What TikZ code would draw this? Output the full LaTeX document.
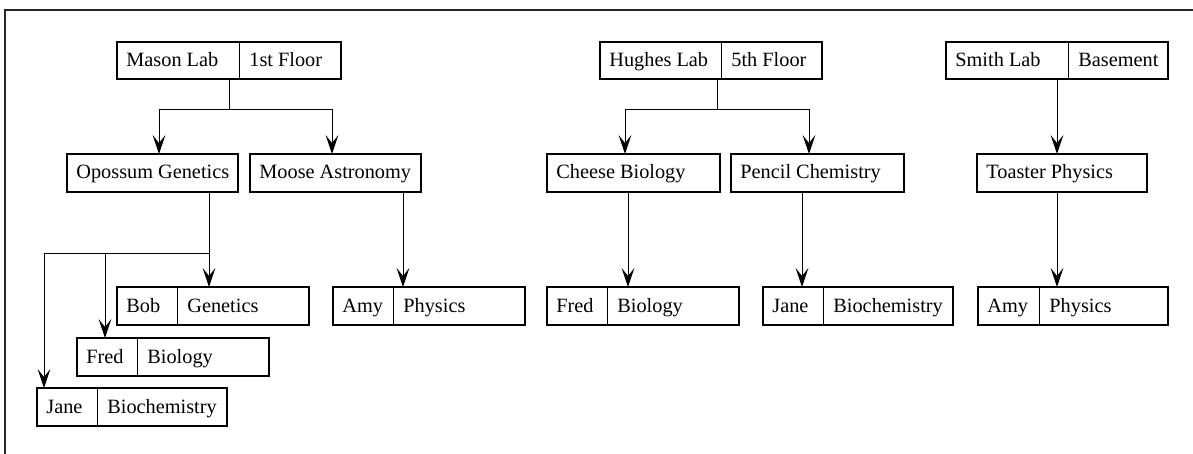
\documentclass[tikz,border=0pt]{standalone}
\usepackage{fontspec}
\setmainfont{Liberation Serif}
\usetikzlibrary{arrows.meta}

% one drawing unit = half a point, y grows downwards
\tikzset{
  boxst/.style={draw, line width=0.65pt, rectangle, inner sep=0pt, outer sep=0pt, anchor=north west},
  divline/.style={line width=0.5pt},
  txt/.style={inner sep=0pt, anchor=base west, font=\fontsize{10.15pt}{12pt}\selectfont},
  link/.style={line width=0.5pt},
  arr/.style={link, -{Stealth[length=9.5pt, width=6.4pt, inset=4pt]}},
}

% two-cell box: name, x1, y1, x2, y2, divider x, left text, right text
\newcommand\twocell[8]{%
  \node[boxst, minimum width={(#4-#2)*0.5pt}, minimum height={(#5-#3)*0.5pt}] (#1) at (#2,#3) {};
  \draw[divline] (#1.north -| #6,0) -- (#1.south -| #6,0);
  \node[txt] (#1-l) at (#2+9,#3+25) {#7};
  \node[txt] (#1-r) at (#6+10,#3+25) {#8};
}
% one-cell box: name, x1, y1, x2, y2, text
\newcommand\onecell[6]{%
  \node[boxst, minimum width={(#4-#2)*0.5pt}, minimum height={(#5-#3)*0.5pt}] (#1) at (#2,#3) {};
  \node[txt] (#1-t) at (#2+9,#3+25) {#6};
}

\begin{document}
\begin{tikzpicture}[x=0.5pt, y=-0.5pt]
\useasboundingbox (0,0) rectangle (1193,454);

% frame
\coordinate (fr-tr) at (1193,10);
\coordinate (fr-tl) at (5,10);
\coordinate (fr-bl) at (5,454);
\draw[line width=0.6pt, black!85] (fr-tr) -- (fr-tl) -- (fr-bl);

% labs
\twocell{mason}{117}{42}{341}{79}{239}{Mason Lab}{1st Floor}
\twocell{hughes}{600}{42}{822}{79}{721}{Hughes Lab}{5th Floor}
\twocell{smith}{946}{42}{1168}{79}{1068}{Smith Lab}{Basement}

% groups
\onecell{opossum}{67}{154}{238}{192}{Opossum Genetics}
\onecell{moose}{250}{154}{421}{192}{Moose Astronomy}
\onecell{cheese}{547}{154}{720}{192}{Cheese Biology}
\onecell{pencil}{731}{154}{904}{192}{Pencil Chemistry}
\onecell{toaster}{977}{154}{1147}{192}{Toaster Physics}

% people
\twocell{bob}{117}{287}{309}{325}{177}{Bob}{Genetics}
\twocell{fredA}{77}{338}{269}{376}{137}{Fred}{Biology}
\twocell{janeA}{37}{388}{227}{426}{97}{Jane}{Biochemistry}
\twocell{amyA}{333}{287}{525}{325}{393}{Amy}{Physics}
\twocell{fredB}{547}{287}{739}{325}{607}{Fred}{Biology}
\twocell{janeB}{763}{287}{953}{325}{823}{Jane}{Biochemistry}
\twocell{amyB}{978}{287}{1168}{325}{1039}{Amy}{Physics}

% Mason Lab
\draw[link] (mason.south -| 229,0) -- (229,110) coordinate (mj);
\draw[arr] (mj) -| (opossum.north -| 159,0);
\draw[arr] (mj) -| (moose.north -| 332,0);

% Hughes Lab
\draw[link] (hughes.south -| 717,0) -- (717,110) coordinate (hj);
\draw[arr] (hj) -| (cheese.north -| 625,0);
\draw[arr] (hj) -| (pencil.north -| 809,0);

% Smith Lab
\draw[arr] (smith.south -| 1057,0) -- (toaster.north -| 1057,0);

% Opossum Genetics
\draw[link] (opossum.south -| 209,0) -- (209,254) coordinate (oj);
\draw[arr] (oj) -- (bob.north -| 209,0);
\draw[arr] (oj) -| (fredA.north -| 105,0);
\draw[arr] (oj) -| (janeA.north -| 44,0);

% remaining groups
\draw[arr] (moose.south -| 403,0) -- (amyA.north -| 403,0);
\draw[arr] (cheese.south -| 628,0) -- (fredB.north -| 628,0);
\draw[arr] (pencil.south -| 802,0) -- (janeB.north -| 802,0);
\draw[arr] (toaster.south -| 1057,0) -- (amyB.north -| 1057,0);
\end{tikzpicture}
\end{document}
